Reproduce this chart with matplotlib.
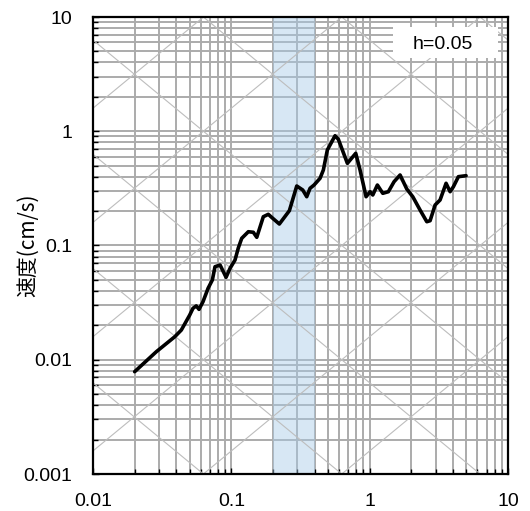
import numpy as np
import matplotlib
matplotlib.use("Agg")
import matplotlib.pyplot as plt
from matplotlib.patches import Rectangle
from matplotlib.ticker import LogLocator, FuncFormatter, NullFormatter

plt.rcParams['font.family'] = ['Liberation Sans', 'DejaVu Sans']

# period (s) and pseudo velocity response (cm/s)
period = [0.0200, 0.0287, 0.0390, 0.0435, 0.0500, 0.0528, 0.0558, 0.0584,
          0.0624, 0.0679, 0.0729, 0.0762, 0.0829, 0.0916, 0.0979, 0.1063,
          0.1123, 0.1189, 0.1327, 0.1442, 0.1527, 0.1703, 0.1850, 0.1992,
          0.2224, 0.2627, 0.2971, 0.3283, 0.3508, 0.3707, 0.3963, 0.4378,
          0.4626, 0.4943, 0.5621, 0.5938, 0.690, 0.793, 0.852, 0.942,
          1.007, 1.053, 1.137, 1.244, 1.365, 1.501, 1.659, 1.855,
          2.049, 2.314, 2.588, 2.734, 2.972, 3.228, 3.567, 3.814,
          4.030, 4.378, 4.977]
velocity = [0.00786, 0.01176, 0.0159, 0.0182, 0.0246, 0.0282, 0.0296, 0.0276,
            0.0322, 0.0422, 0.0499, 0.0652, 0.0675, 0.0527, 0.0632, 0.0746,
            0.0951, 0.1156, 0.132, 0.1305, 0.118, 0.1786, 0.1875, 0.173,
            0.1542, 0.2017, 0.3317, 0.306, 0.2674, 0.3167, 0.3384, 0.3875,
            0.4579, 0.6851, 0.914, 0.850, 0.524, 0.641, 0.458, 0.2674,
            0.2957, 0.2767, 0.3384, 0.2863, 0.2957, 0.3618, 0.4143, 0.3122,
            0.2674, 0.2045, 0.1615, 0.1648, 0.2262, 0.2502, 0.3503, 0.2957,
            0.327, 0.4002, 0.4083]

# tripartite guide lines (acceleration cm/s2, displacement cm)
accel_levels = [10.0 ** n for n in range(-2, 7)]
disp_levels = [10.0 ** n for n in range(-6, 3)]

band = (0.2, 0.4)
label_text = "h=0.05"

fig = plt.figure(figsize=(5.3, 5.11), dpi=100)
ax = fig.add_axes([93 / 530, 37 / 511, 415 / 530, 457 / 511])
ax.set_xscale('log')
ax.set_yscale('log')
ax.set_xlim(0.01, 10)
ax.set_ylim(0.001, 10)
ax.set_axisbelow(True)

ax.grid(True, which='both', color='#ababab', linewidth=1.4)

tt = np.logspace(-2, 1, 50)
for a in accel_levels:
    ax.plot(tt, a * tt / (2 * np.pi), color='#bdbdbd', lw=0.8, zorder=1.2)
for d in disp_levels:
    ax.plot(tt, 2 * np.pi * d / tt, color='#bdbdbd', lw=0.8, zorder=1.2)

ax.axvspan(band[0], band[1], color='#a8cbe8', alpha=0.45, lw=0, zorder=1.1)

ax.plot(period, velocity, color='black', lw=2.6, zorder=3,
        solid_joinstyle='round', solid_capstyle='round')

ax.add_patch(Rectangle((0.723, 0.910), 0.253, 0.068, transform=ax.transAxes,
                       facecolor='white', edgecolor='none', zorder=4))
ax.text(0.843, 0.939, label_text, transform=ax.transAxes, fontsize=14,
        ha='center', va='center', zorder=5)

fmt = FuncFormatter(lambda v, p: '%g' % v)
for axis in (ax.xaxis, ax.yaxis):
    axis.set_major_locator(LogLocator(base=10, numticks=10))
    axis.set_minor_locator(LogLocator(base=10, subs=np.arange(2, 10), numticks=10))
    axis.set_major_formatter(fmt)
    axis.set_minor_formatter(NullFormatter())

ax.tick_params(which='both', direction='in', width=1, color='black')
ax.tick_params(which='major', length=4)
ax.tick_params(which='minor', length=3.5)
ax.tick_params(axis='x', which='major', labelsize=14, pad=14)
ax.tick_params(axis='y', which='major', labelsize=14, pad=15)

for s in ax.spines.values():
    s.set_linewidth(1.6)
    s.set_color('black')

ax.set_ylabel('速度(cm/s)', fontsize=15, family=['Noto Sans CJK JP', 'DejaVu Sans'])
ax.yaxis.set_label_coords(-0.13, 0.5)

fig.savefig('out.png', dpi=100)
